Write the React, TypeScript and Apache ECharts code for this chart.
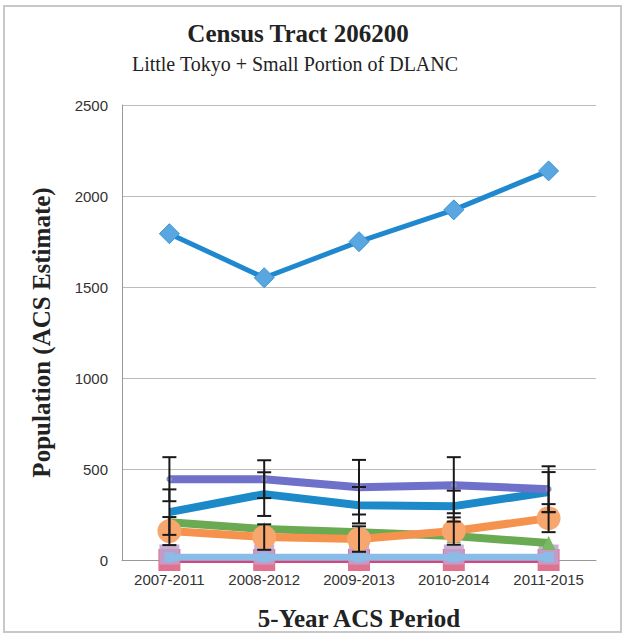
import React, { useEffect, useRef } from "react";
import * as echarts from "echarts";

const categories = ["2007-2011", "2008-2012", "2009-2013", "2010-2014", "2011-2015"];
const totalPop = [1793, 1551, 1749, 1924, 2138];
const purpleSeries = [444, 444, 400, 411, 389];
const tealSeries = [263, 362, 301, 296, 373];
const greenSeries = [208, 170, 153, 132, 93];
const orangeSeries = [159, 126, 115, 159, 230];
const lightBlueSeries = [15, 15, 15, 15, 15];
const lavenderSeries = [30, 30, 30, 30, 30];
const pinkSeries = [0, 0, 0, 0, 0];
const purpleErr = [121, 104, 150, 154, 126];
const tealErr = [125, 120, 100, 85, 110];
const orangeErr = [77, 70, 70, 75, 77];

function errData(vals: number[], errs: number[]) {
  return vals.map((v, i) => [i, v - errs[i], v + errs[i]]);
}

const errRender = (params: any, api: any) => {
  const x = api.value(0);
  const lo = api.coord([x, api.value(1)]);
  const hi = api.coord([x, api.value(2)]);
  const w = 7;
  const style = { stroke: "#1a1a1a", lineWidth: 2 };
  return {
    type: "group",
    children: [
      { type: "line", shape: { x1: lo[0], y1: lo[1], x2: hi[0], y2: hi[1] }, style },
      { type: "line", shape: { x1: hi[0] - w, y1: hi[1], x2: hi[0] + w, y2: hi[1] }, style },
      { type: "line", shape: { x1: lo[0] - w, y1: lo[1], x2: lo[0] + w, y2: lo[1] }, style },
    ],
  };
};

export default function App() {
  const ref = useRef<HTMLDivElement>(null);
  useEffect(() => {
    document.body.style.margin = "0";
    const chart = echarts.init(ref.current!, null, { renderer: "svg" });
    const serif = "'Liberation Serif', 'DejaVu Serif', serif";
    const sans = "'Liberation Sans Narrow', 'Liberation Sans', Arial, sans-serif";
    chart.setOption({
      animation: false,
      backgroundColor: "#ffffff",
      graphic: [
        {
          type: "rect",
          shape: { x: 4, y: 6, width: 617, height: 626 },
          style: { fill: "none", stroke: "#c8c8c8", lineWidth: 2 },
          silent: true,
          z: -1,
        },
        {
          type: "text",
          x: 298,
          y: 33,
          style: {
            text: "Census Tract 206200",
            font: "bold 25px " + serif,
            fill: "#222",
            textAlign: "center",
            textVerticalAlign: "middle",
          },
        },
        {
          type: "text",
          x: 295,
          y: 64,
          style: {
            text: "Little Tokyo + Small Portion of DLANC",
            font: "20px " + serif,
            fill: "#222",
            textAlign: "center",
            textVerticalAlign: "middle",
          },
        },
      ],
      grid: { left: 122, right: 31, top: 105, bottom: 75 },
      xAxis: {
        type: "category",
        data: categories,
        boundaryGap: true,
        axisLine: { lineStyle: { color: "#999", width: 1 } },
        axisTick: { show: false },
        axisLabel: { color: "#333", fontFamily: sans, fontSize: 15, margin: 12 },
        name: "5-Year ACS Period",
        nameLocation: "middle",
        nameGap: 46,
        nameTextStyle: { fontFamily: serif, fontWeight: "bold", fontSize: 25, color: "#222" },
      },
      yAxis: {
        type: "value",
        min: 0,
        max: 2500,
        interval: 500,
        axisLine: { show: true, lineStyle: { color: "#999" } },
        axisTick: { show: false },
        splitLine: { lineStyle: { color: "#bbb", width: 1 } },
        axisLabel: {
          color: "#333",
          fontFamily: sans,
          fontSize: 15,
          margin: 14,
          formatter: (v: number) => String(v),
        },
        name: "Population (ACS Estimate)",
        nameLocation: "middle",
        nameGap: 68,
        nameTextStyle: { fontFamily: serif, fontWeight: "bold", fontSize: 25, color: "#222" },
      },
      series: [
        {
          type: "line",
          data: pinkSeries,
          lineStyle: { color: "#d9457a", width: 6 },
          itemStyle: { color: "#e0728f" },
          symbol: "rect",
          symbolSize: 22,
          z: 2,
        },
        {
          type: "line",
          data: lavenderSeries,
          lineStyle: { color: "#b9a3d6", width: 6, opacity: 0 },
          itemStyle: { color: "#bda2d0", opacity: 0.85 },
          symbol: "rect",
          symbolSize: 20,
          z: 3,
        },
        {
          type: "line",
          data: lightBlueSeries,
          lineStyle: { color: "#8bbce8", width: 7 },
          itemStyle: { color: "#8bbce8" },
          symbol: "rect",
          symbolSize: 10,
          z: 4,
        },
        {
          type: "line",
          data: greenSeries,
          lineStyle: { color: "#6aaa52", width: 8 },
          itemStyle: { color: "#7ab863" },
          symbol: "triangle",
          symbolSize: 14,
          z: 5,
        },
        {
          type: "line",
          data: orangeSeries,
          lineStyle: { color: "#f5924e", width: 8 },
          itemStyle: { color: "#f7a66e" },
          symbol: "circle",
          symbolSize: 24,
          z: 6,
        },
        {
          type: "line",
          data: tealSeries,
          lineStyle: { color: "#1c89c9", width: 8 },
          itemStyle: { color: "#3a9ad6" },
          symbol: "path://M0,0 L10,10 M10,0 L0,10 M5,0 L5,10 M0,5 L10,5",
          symbolSize: 22,
          z: 7,
        },
        {
          type: "line",
          data: purpleSeries,
          lineStyle: { color: "#6e70c9", width: 8 },
          itemStyle: { color: "#8a8cd6" },
          symbol: "emptyCircle",
          symbolSize: 4,
          z: 8,
        },
        {
          type: "line",
          data: totalPop,
          lineStyle: { color: "#1f88cf", width: 5 },
          itemStyle: { color: "#5aa6e0", borderColor: "#3b95d8", borderWidth: 1 },
          symbol: "diamond",
          symbolSize: 20,
          z: 9,
        },
        {
          type: "custom",
          renderItem: errRender,
          data: errData(orangeSeries, orangeErr),
          encode: { x: 0, y: [1, 2] },
          z: 10,
        },
        {
          type: "custom",
          renderItem: errRender,
          data: errData(tealSeries, tealErr),
          encode: { x: 0, y: [1, 2] },
          z: 10,
        },
        {
          type: "custom",
          renderItem: errRender,
          data: errData(purpleSeries, purpleErr),
          encode: { x: 0, y: [1, 2] },
          z: 10,
        },
      ],
    });
    return () => chart.dispose();
  }, []);
  return <div ref={ref} style={{ width: 627, height: 636 }} />;
}
